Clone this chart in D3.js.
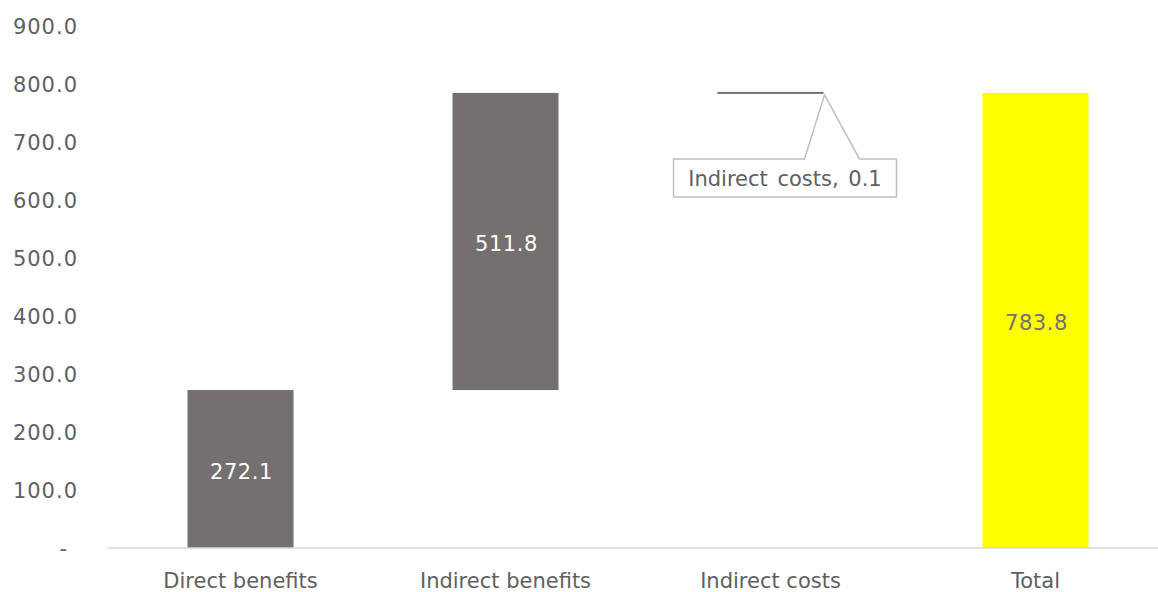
<!DOCTYPE html>
<html>
<head>
<meta charset="utf-8">
<script src="https://cdn.jsdelivr.net/npm/d3@7"></script>
<style>
  html, body { margin: 0; padding: 0; background: #ffffff; overflow: hidden; }
  svg { display: block; font-family: "DejaVu Sans", "Open Sans", sans-serif; }
</style>
</head>
<body>
<svg id="chart" width="1158" height="592"></svg>
<script>
// ---- data ----
const categories = ["Direct benefits", "Indirect benefits", "Indirect costs", "Total"];
const values = [272.1, 511.8, -0.1, 783.8];
const isTotal = [false, false, false, true];
const yTickValues = [0, 100, 200, 300, 400, 500, 600, 700, 800, 900];

// ---- layout ----
const svg = d3.select("#chart");
const margin = { left: 108, right: -10, top: 25.5, bottom: 44 };
const W = 1158, H = 592;
const FONT = "\"DejaVu Sans\", sans-serif";
const FS = "21px";
const TXT = "#606060";

const x = d3.scaleBand()
  .domain(categories)
  .range([margin.left, W - margin.right])
  .paddingInner(0.6)
  .paddingOuter(0.3);

const y = d3.scaleLinear()
  .domain([0, 900])
  .range([H - margin.bottom, margin.top]);

// waterfall segments
let running = 0;
const segs = categories.map((c, i) => {
  let start, end;
  if (isTotal[i]) { start = 0; end = values[i]; running = values[i]; }
  else { start = running; end = running + values[i]; running = end; }
  return { cat: c, value: values[i], lo: Math.min(start, end), hi: Math.max(start, end), total: isTotal[i] };
});

// y axis labels (no line)
const yAxis = d3.axisLeft(y)
  .tickValues(yTickValues)
  .tickSize(0)
  .tickPadding(0)
  .tickFormat(d => d === 0 ? "-" : d3.format(".1f")(d));
const gy = svg.append("g").call(yAxis);
gy.select(".domain").remove();
gy.selectAll("text")
  .attr("x", 78)
  .attr("dy", "0.38em")
  .attr("text-anchor", "end")
  .attr("fill", TXT)
  .style("font-size", FS)
  .style("letter-spacing", "1px")
  .style("font-family", FONT);
gy.selectAll(".tick").filter(d => d === 0).select("text").attr("x", 68);

// bars
svg.append("g").selectAll("rect")
  .data(segs)
  .join("rect")
  .attr("x", d => x(d.cat))
  .attr("width", x.bandwidth())
  .attr("y", d => {
    const h = y(d.lo) - y(d.hi);
    return h < 2 ? y(d.hi) - 1 : y(d.hi);
  })
  .attr("height", d => Math.max(2, y(d.lo) - y(d.hi)))
  .attr("fill", d => d.total ? "#ffff00" : "#747070");

// x axis
const xAxis = d3.axisBottom(x).tickSize(0).tickPadding(0);
const gx = svg.append("g").attr("transform", `translate(0,${y(0)})`).call(xAxis);
gx.select(".domain").attr("stroke", "#d9d9d9").attr("stroke-width", 1.5)
  .attr("d", `M${margin.left},0H${W + 20}`);
gx.selectAll("text")
  .attr("y", 32)
  .attr("dy", "0.36em")
  .attr("fill", TXT)
  .style("font-size", FS)
  .style("font-family", FONT);

// value labels inside bars
svg.append("g").selectAll("text")
  .data(segs.filter(d => Math.abs(d.value) > 1))
  .join("text")
  .attr("x", d => x(d.cat) + x.bandwidth() / 2 + 1)
  .attr("y", d => (y(d.lo) + y(d.hi)) / 2 + 2)
  .attr("dy", "0.36em")
  .attr("text-anchor", "middle")
  .attr("fill", d => d.total ? "#747070" : "#ffffff")
  .style("font-size", FS)
  .style("letter-spacing", "0.6px")
  .style("font-family", FONT)
  .text(d => d3.format(".1f")(d.value));

// callout for the tiny segment
const small = segs.find(d => Math.abs(d.value) <= 1);
if (small) {
  const tipX = x(small.cat) + x.bandwidth() + 1;
  const tipY = y(small.hi) + 2;
  const bx0 = x(small.cat) - 44, bx1 = x(small.cat) + x.bandwidth() + 73;
  const by0 = y(small.hi) + 66, by1 = by0 + 38;
  const g = svg.append("g");
  g.append("path")
    .attr("d", `M${bx0},${by0}H${tipX - 20}L${tipX},${tipY}L${tipX + 35},${by0}H${bx1}V${by1}H${bx0}Z`)
    .attr("fill", "#ffffff")
    .attr("stroke", "#bfbfbf")
    .attr("stroke-width", 1.5);
  g.append("text")
    .attr("x", (bx0 + bx1) / 2)
    .attr("y", (by0 + by1) / 2 + 1)
    .attr("dy", "0.36em")
    .attr("text-anchor", "middle")
    .attr("fill", TXT)
    .style("font-size", FS)
    .style("font-family", FONT)
    .style("word-spacing", "3px")
    .text(`${small.cat}, ${d3.format(".1f")(Math.abs(small.value))}`);
}
</script>
</body>
</html>
